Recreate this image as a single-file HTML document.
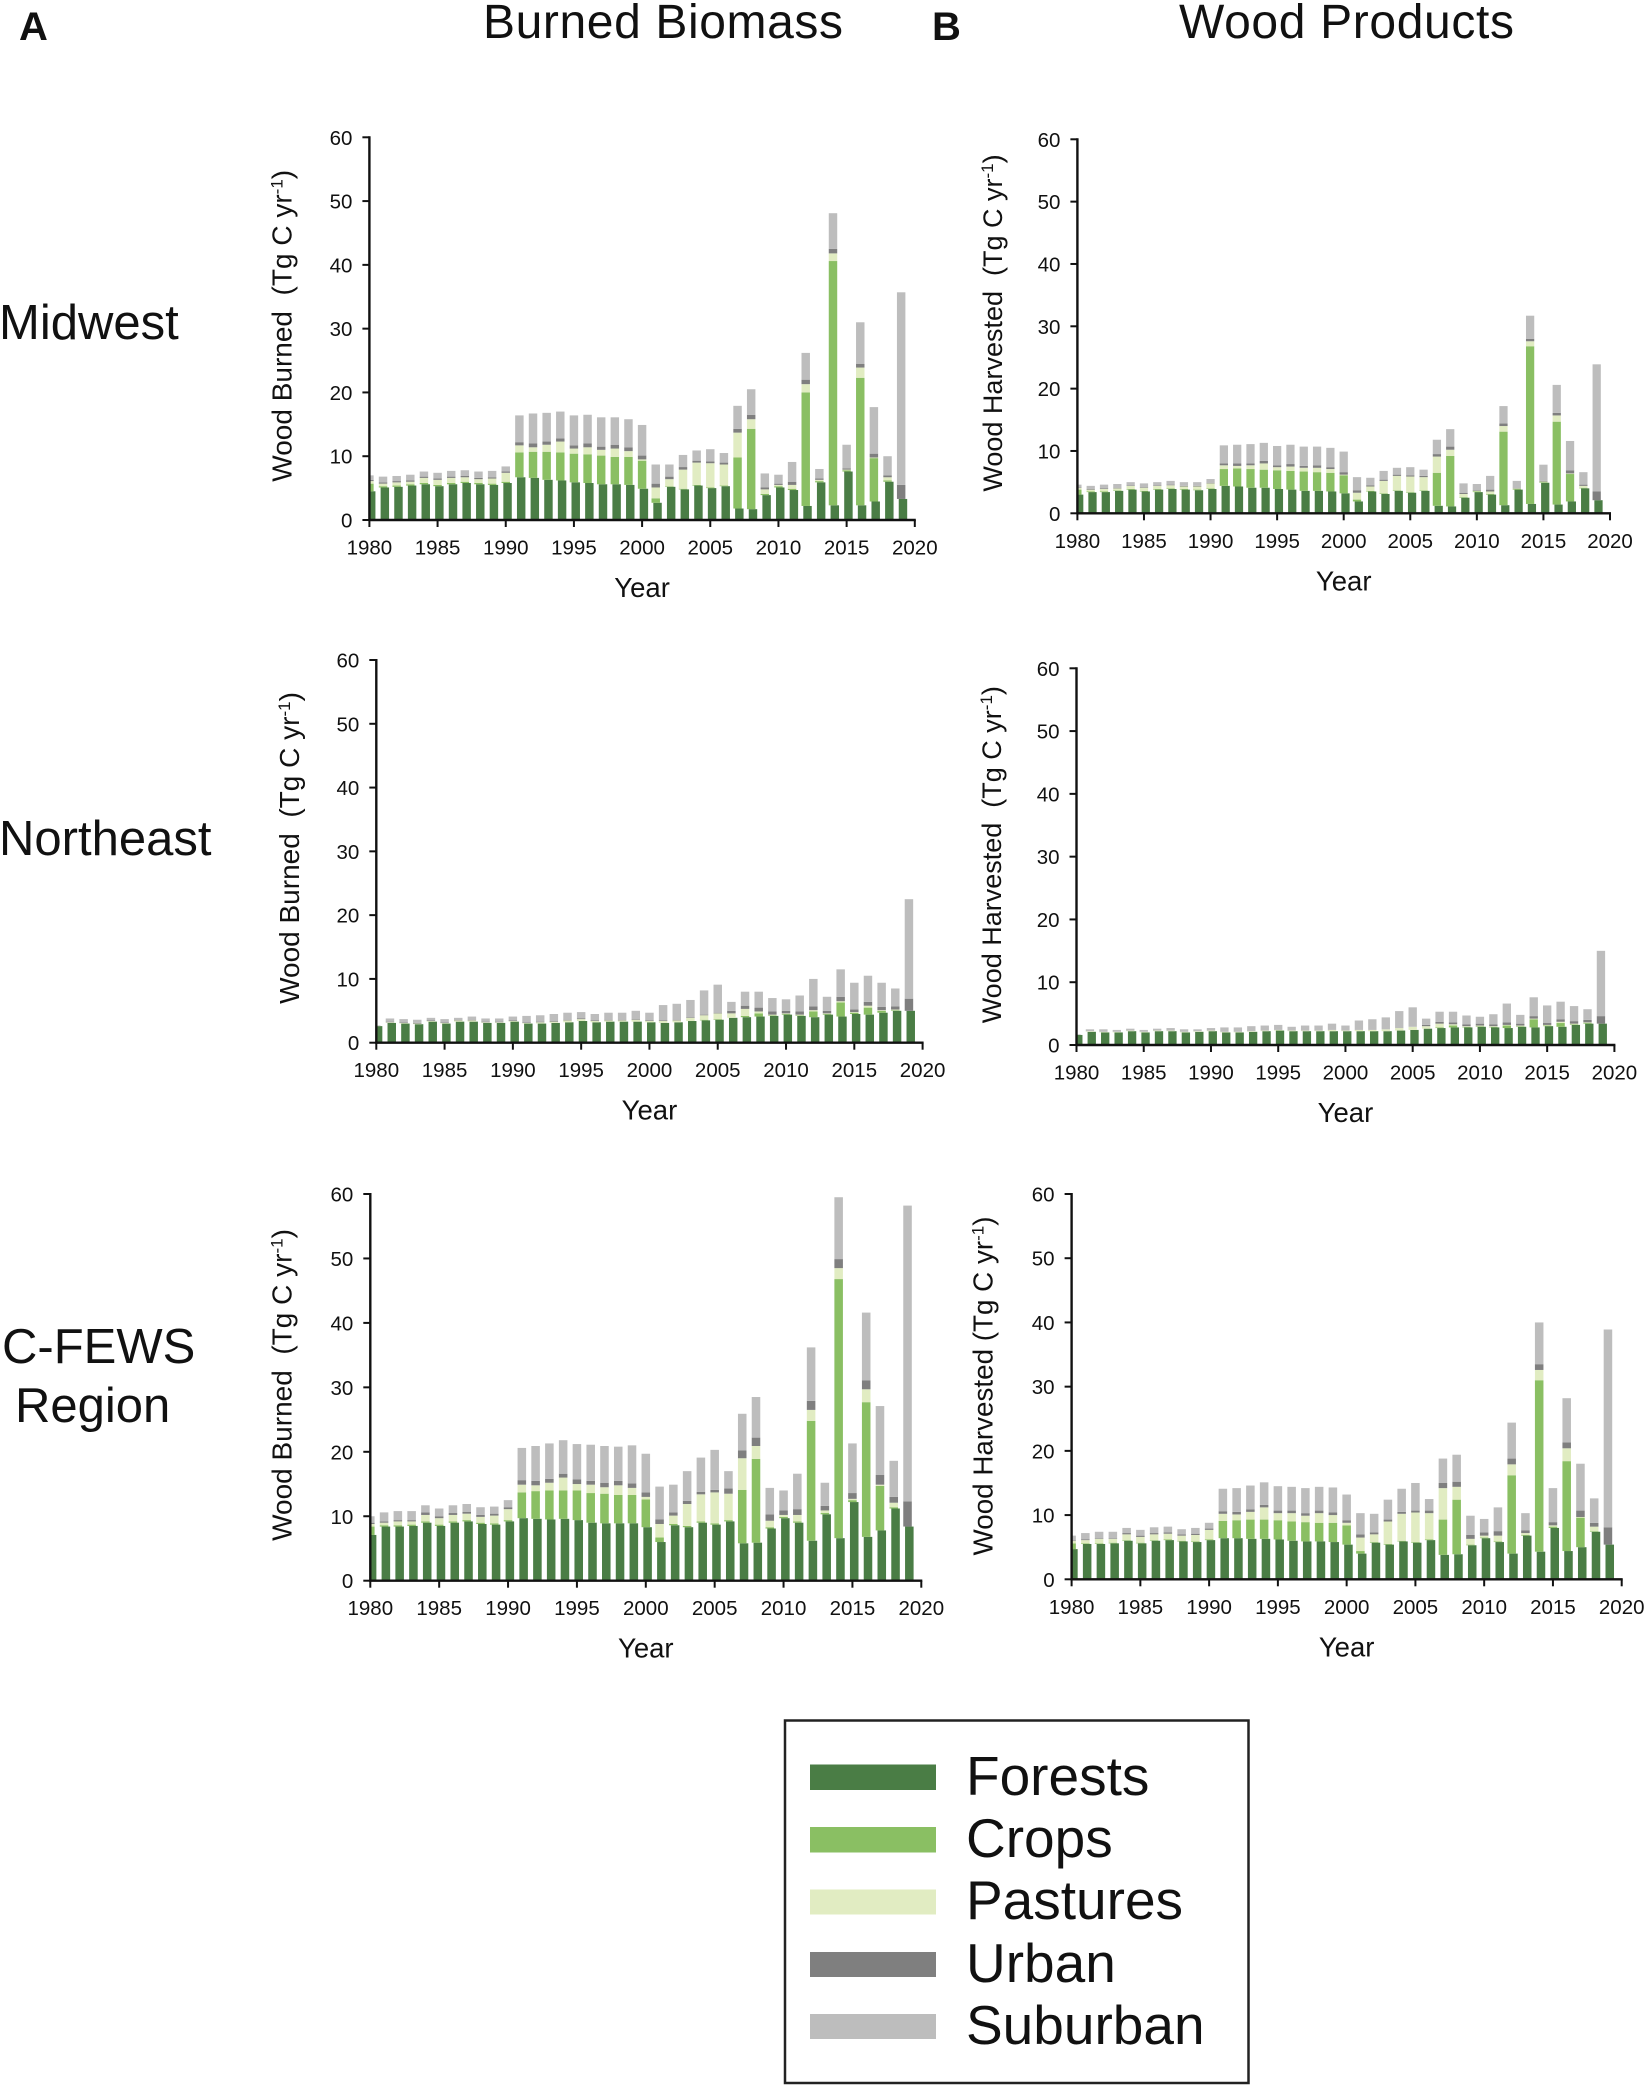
<!DOCTYPE html>
<html lang="en">
<head>
<meta charset="utf-8">
<title>Burned Biomass and Wood Products</title>
<style>
html,body{margin:0;padding:0;background:#fff}
body{width:1649px;height:2089px;overflow:hidden}
svg{display:block}
text{font-family:"Liberation Sans",sans-serif;fill:#111;white-space:pre}
</style>
</head>
<body>
<svg id="figure" xmlns="http://www.w3.org/2000/svg" width="1649" height="2089" viewBox="0 0 1649 2089">
  <rect x="0" y="0" width="1649" height="2089" fill="#fff"/>
  <text x="19" y="40" font-size="40" font-weight="bold">A</text>
  <text x="932" y="40" font-size="40" font-weight="bold">B</text>
  <text x="483" y="38" font-size="48" textLength="360">Burned Biomass</text>
  <text x="1179" y="38" font-size="48" textLength="335">Wood Products</text>
  <text x="-1" y="339" font-size="49">Midwest</text>
  <text x="-1" y="855" font-size="49">Northeast</text>
  <text x="2" y="1363" font-size="49">C-FEWS</text>
  <text x="15" y="1422" font-size="49">Region</text>
  <g id="charts"></g>
  <g>
    <rect x="785" y="1720.5" width="463.5" height="362.5" fill="#fff" stroke="#222" stroke-width="2.5"/>
    <rect x="810" y="1764.5" width="126" height="25.5" fill="#4a7d45"/>
    <text x="966" y="1795" font-size="55">Forests</text>
    <rect x="810" y="1827" width="126" height="25.5" fill="#8abf63"/>
    <text x="966" y="1857" font-size="55">Crops</text>
    <rect x="810" y="1889.5" width="126" height="25" fill="#e1ecc2"/>
    <text x="966" y="1919" font-size="55">Pastures</text>
    <rect x="810" y="1952" width="126" height="25" fill="#7f7f7f"/>
    <text x="966" y="1982" font-size="55">Urban</text>
    <rect x="810" y="2014" width="126" height="25" fill="#bdbdbd"/>
    <text x="966" y="2044" font-size="55">Suburban</text>
  </g>
</svg>
<script>
const years = [1980,1981,1982,1983,1984,1985,1986,1987,1988,1989,1990,1991,1992,1993,1994,1995,1996,1997,1998,1999,2000,2001,2002,2003,2004,2005,2006,2007,2008,2009,2010,2011,2012,2013,2014,2015,2016,2017,2018,2019];
const xTickLabels = [1980,1985,1990,1995,2000,2005,2010,2015,2020];
const yTickLabels = [0,10,20,30,40,50,60];
const seriesNames = ['forests','crops','pastures','urban','suburban'];

const midwestBurnedForests = [4.5,5.1,5.2,5.4,5.6,5.3,5.6,5.8,5.6,5.5,5.8,6.7,6.6,6.3,6.2,5.9,5.8,5.6,5.6,5.5,4.9,2.7,5.2,4.8,5.4,5.0,5.3,1.8,1.7,3.9,5.1,4.7,2.2,5.9,2.3,7.6,2.3,2.9,6.0,3.3];
const midwestBurnedCrops = [1.2,.2,.2,.2,.2,.2,.2,.2,.2,.2,.2,3.9,4.1,4.4,4.4,4.5,4.5,4.5,4.3,4.4,4.4,.7,.1,.1,.1,.1,.1,8.0,12.6,.2,.2,.2,17.8,.2,38.3,.2,20.0,6.8,.2,0];
const midwestBurnedPastures = [.4,.4,.5,.4,.8,.8,.8,.7,.6,.8,1.4,1.1,.7,1.1,1.7,.8,1.1,.9,1.3,.9,.2,1.7,1.1,3.0,3.5,3.8,3.3,3.9,1.5,.7,.2,.6,1.3,.2,1.2,.1,1.6,.1,.5,0];
const midwestBurnedUrban = [.2,.2,.2,.2,.2,.2,.2,.2,.2,.2,.2,.5,.6,.5,.5,.5,.6,.5,.6,.6,.6,.6,.4,.4,.3,.3,.3,.6,.7,.3,.2,.5,.7,.2,.7,.2,.6,.6,.3,2.2];
const midwestBurnedSuburban = [.7,.9,.8,.9,.8,.9,.9,.9,1.0,1.0,.8,4.2,4.7,4.5,4.2,4.7,4.5,4.6,4.3,4.4,4.8,3.0,1.9,1.9,1.6,1.9,1.5,3.6,4.0,2.2,1.4,3.1,4.2,1.5,5.6,3.7,6.5,7.3,3.0,30.2];

const midwestHarvestedForests = [3.0,3.4,3.4,3.6,3.8,3.5,3.8,3.9,3.8,3.7,3.9,4.4,4.3,4.1,4.1,3.9,3.8,3.6,3.6,3.5,3.2,1.9,3.5,3.1,3.6,3.3,3.6,1.2,1.1,2.5,3.4,3.0,1.3,3.8,1.5,4.9,1.4,1.9,4.0,2.1];
const midwestHarvestedCrops = [.8,.1,.1,.1,.1,.1,.1,.1,.1,.1,.1,2.7,2.9,3.0,2.9,3.0,3.0,3.1,3.0,3.0,2.9,.3,.1,.1,.1,.1,.1,5.3,8.1,.1,.1,.1,11.8,.1,25.3,.1,13.3,4.4,.1,0];
const midwestHarvestedPastures = [.3,.3,.4,.3,.5,.5,.5,.5,.4,.5,.8,.6,.4,.6,1.0,.5,.7,.6,.7,.6,.1,1.1,.7,2.0,2.3,2.5,2.1,2.6,1.0,.5,.1,.4,.9,.1,.8,.1,1.0,.1,.3,0];
const midwestHarvestedUrban = [.1,.1,.1,.1,.1,.1,.1,.1,.1,.1,.1,.3,.4,.3,.4,.3,.4,.3,.4,.3,.4,.4,.2,.2,.2,.2,.2,.4,.5,.2,.1,.3,.4,.1,.4,.1,.4,.5,.2,1.4];
const midwestHarvestedSuburban = [.4,.5,.6,.6,.5,.6,.5,.6,.6,.6,.6,2.9,3.0,3.1,2.9,3.1,3.1,3.1,3.0,3.1,3.3,2.1,1.2,1.4,1.1,1.3,1.0,2.3,2.8,1.5,1.0,2.2,2.8,1.1,3.7,2.6,4.5,4.7,2.0,20.4];

const northeastBurnedForests = [2.6,3.1,3.0,2.9,3.3,3.0,3.3,3.3,3.1,3.1,3.3,3.0,3.0,3.1,3.2,3.4,3.2,3.3,3.3,3.3,3.2,3.1,3.2,3.4,3.5,3.6,3.9,4.0,4.1,4.2,4.4,4.2,4.0,4.4,4.1,4.5,4.4,4.7,5.0,5.0];
const northeastBurnedCrops = [0,0,0,0,0,0,0,0,0,0,0,0,0,0,0,0,0,0,0,0,0,0,0,0,.1,.1,0,.2,.5,.1,.1,.1,.9,.1,2.2,.2,1.1,.3,.1,0];
const northeastBurnedPastures = [0,.1,.1,.1,.1,.1,.2,.2,.1,.1,.1,.1,.2,.2,.3,.3,.2,.2,.2,.3,.2,.3,.3,.5,.7,.9,.7,1.1,.3,.1,.1,.1,.2,.1,.2,.1,.3,.1,.1,0];
const northeastBurnedUrban = [0,.1,.1,.1,.1,.1,.1,.1,.1,.1,.1,.1,.1,.1,.1,.1,.1,.1,.1,.1,.1,.1,.1,.1,.1,.1,.4,.5,.6,.5,.4,.5,.6,.4,.7,.4,.6,.5,.5,1.9];
const northeastBurnedSuburban = [.1,.5,.5,.5,.4,.5,.3,.5,.5,.5,.6,1.0,1.0,1.1,1.1,1.0,1.0,1.1,1.1,1.3,1.2,2.4,2.5,2.7,3.8,4.4,1.4,2.2,2.5,2.1,1.8,2.5,4.3,2.2,4.3,4.2,4.1,3.8,2.8,15.6];

const northeastHarvestedForests = [1.6,2.1,2.0,2.0,2.2,2.0,2.2,2.2,2.0,2.1,2.2,2.0,2.0,2.1,2.2,2.3,2.2,2.2,2.2,2.2,2.2,2.2,2.2,2.2,2.3,2.4,2.6,2.7,2.8,2.8,2.9,2.8,2.7,2.9,2.8,3.0,2.9,3.2,3.4,3.4];
const northeastHarvestedCrops = [0,0,0,0,0,0,0,0,0,0,0,0,0,0,0,0,0,0,0,0,0,0,0,0,0,0,0,.1,.3,.1,.1,.1,.4,.1,1.3,.1,.6,.1,.1,0];
const northeastHarvestedPastures = [0,.1,.1,.1,.1,.1,.1,.1,.1,.1,.1,.1,.1,.1,.1,.1,.1,.1,.1,.2,.1,.2,.2,.3,.4,.5,.4,.6,.2,.1,.1,.1,.1,.1,.1,.1,.2,.1,.1,0];
const northeastHarvestedUrban = [0,0,0,0,0,0,0,0,0,0,0,0,0,0,0,0,0,0,0,0,0,0,0,0,0,0,.2,.3,.3,.3,.3,.3,.4,.3,.4,.3,.4,.4,.4,1.2];
const northeastHarvestedSuburban = [.1,.3,.4,.3,.3,.3,.3,.4,.4,.3,.4,.7,.7,.8,.8,.8,.6,.8,.8,1.0,.8,1.5,1.7,1.9,2.7,3.1,1.0,1.6,1.7,1.4,1.1,1.6,3.0,1.4,3.0,2.8,2.8,2.4,1.7,10.4];

const regionBurnedForests = [7.1,8.4,8.4,8.5,9.0,8.5,9.0,9.2,8.8,8.7,9.2,9.7,9.6,9.5,9.6,9.4,9.0,8.9,8.9,8.9,8.3,6.0,8.6,8.3,9.0,8.7,9.2,5.8,5.9,8.1,9.7,9.0,6.2,10.3,6.6,12.2,6.8,7.8,11.2,8.4];
const regionBurnedCrops = [1.3,.2,.2,.2,.2,.2,.2,.2,.2,.2,.2,4.0,4.3,4.5,4.4,4.6,4.6,4.6,4.4,4.4,4.3,.7,.2,.2,.2,.2,.2,8.3,13.0,.2,.2,.2,18.6,.2,40.2,.3,20.9,6.9,.2,0];
const regionBurnedPastures = [.4,.4,.6,.5,1.0,1.0,1.0,1.0,.9,1.2,1.7,1.2,.9,1.2,2.0,1.0,1.3,1.0,1.5,1.1,.4,2.1,1.3,3.4,4.2,4.8,4.1,4.9,2.0,1.0,.3,1.0,1.7,.4,1.7,.2,2.0,.2,.7,0];
const regionBurnedUrban = [.2,.2,.2,.2,.4,.3,.3,.3,.3,.3,.3,.7,.7,.6,.6,.7,.6,.7,.7,.7,.7,.7,.5,.5,.4,.4,.8,1.2,1.3,1.0,.7,.9,1.4,.7,1.4,.9,1.4,1.5,.9,3.9];
const regionBurnedSuburban = [1.0,1.4,1.4,1.4,1.1,1.2,1.2,1.2,1.2,1.1,1.1,5.0,5.4,5.5,5.2,5.5,5.6,5.7,5.3,5.9,6.0,5.1,4.3,4.6,5.3,6.2,2.7,5.7,6.3,4.1,3.1,5.5,8.3,3.6,9.6,7.7,10.5,10.7,5.6,45.9];

const regionHarvestedForests = [4.7,5.5,5.5,5.6,6.0,5.6,6.0,6.1,5.9,5.8,6.1,6.4,6.4,6.3,6.3,6.2,6.0,5.9,5.9,5.8,5.4,4.0,5.7,5.4,5.9,5.7,6.1,3.8,3.9,5.3,6.4,5.8,4.0,6.8,4.3,8.0,4.4,5.0,7.4,5.4];
const regionHarvestedCrops = [.9,.1,.1,.1,.1,.1,.1,.1,.1,.1,.1,2.7,2.8,3.0,3.0,3.0,3.0,3.0,2.9,3.0,3.0,.4,.1,.1,.1,.1,.1,5.5,8.5,.1,.1,.1,12.2,.1,26.7,.2,14.0,4.6,.1,0];
const regionHarvestedPastures = [.4,.5,.7,.6,.9,.9,.9,.9,.8,1.0,1.5,1.1,.9,1.2,1.9,1.1,1.3,1.0,1.5,1.2,.4,2.1,1.2,3.5,4.2,4.6,4.1,4.9,2.0,.9,.3,.9,1.7,.3,1.6,.2,2.0,.1,.7,0];
const regionHarvestedUrban = [.1,.1,.1,.1,.2,.2,.2,.2,.2,.2,.2,.4,.4,.4,.4,.4,.4,.4,.4,.4,.4,.5,.3,.3,.3,.3,.4,.8,.8,.6,.5,.7,.9,.4,.9,.5,.9,1.0,.6,2.7];
const regionHarvestedSuburban = [.7,1.0,1.0,1.0,.8,.9,.9,.9,.8,.9,.9,3.5,3.7,3.7,3.5,3.8,3.7,3.9,3.7,3.9,4.0,3.3,2.9,3.1,3.6,4.3,1.8,3.8,4.2,3.0,2.1,3.7,5.6,2.7,6.5,5.3,6.9,7.3,3.8,30.8];

const seriesColors = ['#4a7d45','#8abf63','#e1ecc2','#7f7f7f','#bdbdbd'];
const NS = 'http://www.w3.org/2000/svg';
const root = document.getElementById('charts');

const panels = [
  {id:'midwest-burned', x0:369.4, x1:914.8, y0:520, y1:137.3, title:'Wood Burned  (Tg C yr', titleSize:28, titleX:291.5, titleY:325.8, series:[midwestBurnedForests,midwestBurnedCrops,midwestBurnedPastures,midwestBurnedUrban,midwestBurnedSuburban]},
  {id:'midwest-harvested', x0:1077.4, x1:1610, y0:513.3, y1:139.3, title:'Wood Harvested  (Tg C yr', titleSize:27, titleX:1002, titleY:323, series:[midwestHarvestedForests,midwestHarvestedCrops,midwestHarvestedPastures,midwestHarvestedUrban,midwestHarvestedSuburban]},
  {id:'northeast-burned', x0:376.3, x1:922.6, y0:1042.7, y1:660, title:'Wood Burned  (Tg C yr', titleSize:28, titleX:299, titleY:848, series:[northeastBurnedForests,northeastBurnedCrops,northeastBurnedPastures,northeastBurnedUrban,northeastBurnedSuburban]},
  {id:'northeast-harvested', x0:1076.5, x1:1614.4, y0:1045, y1:668.3, title:'Wood Harvested  (Tg C yr', titleSize:27, titleX:1001, titleY:854.7, series:[northeastHarvestedForests,northeastHarvestedCrops,northeastHarvestedPastures,northeastHarvestedUrban,northeastHarvestedSuburban]},
  {id:'region-burned', x0:370.3, x1:921.3, y0:1580.7, y1:1194, title:'Wood Burned  (Tg C yr', titleSize:28, titleX:291.5, titleY:1385, series:[regionBurnedForests,regionBurnedCrops,regionBurnedPastures,regionBurnedUrban,regionBurnedSuburban]},
  {id:'region-harvested', x0:1071.6, x1:1621.7, y0:1579.3, y1:1194, title:'Wood Harvested (Tg C yr', titleSize:27.8, titleX:992.5, titleY:1386, series:[regionHarvestedForests,regionHarvestedCrops,regionHarvestedPastures,regionHarvestedUrban,regionHarvestedSuburban]}
];

function svgEl(tag, parent){
  const el = document.createElementNS(NS, tag);
  parent.appendChild(el);
  return el;
}
function setAttrs(el, attrs){
  for (const k in attrs) el.setAttribute(k, attrs[k]);
  return el;
}

panels.forEach(function(p){
  const xAt = function(year){ return p.x0 + (year - 1980) * (p.x1 - p.x0) / 40; };
  const yAt = function(v){ return p.y0 - v * (p.y0 - p.y1) / 60; };
  const barWidth = 0.62 * (p.x1 - p.x0) / 40;

  const g = svgEl('g', root);
  
  

  years.forEach(function(year, i){
    let base = 0;
    p.series.forEach(function(values, s){
      const v = values[i];
      if (v > 0) {
        const offset = s === 0 ? 1.8 : 0;
        const left = Math.max(p.x0, xAt(year) - barWidth / 2 + offset);
        const right = xAt(year) + barWidth / 2 + offset;
        const rect = svgEl('rect', g);
        setAttrs(rect, {x:left, y:yAt(base + v), width:right - left, height:yAt(base) - yAt(base + v), fill:seriesColors[s]});
        
        
      }
      base += v;
    });
  });

  const yAxis = svgEl('line', g);
  setAttrs(yAxis, {x1:p.x0, x2:p.x0, y1:p.y1 - 1, y2:p.y0 + 1, stroke:'#111', 'stroke-width':2.4});
  
  

  const xAxis = svgEl('line', g);
  setAttrs(xAxis, {x1:p.x0 - 1, x2:p.x1 + 1, y1:p.y0, y2:p.y0, stroke:'#111', 'stroke-width':2.4});
  
  

  yTickLabels.forEach(function(label){
    const tick = svgEl('line', g);
    setAttrs(tick, {x1:p.x0 - 7, x2:p.x0, y1:yAt(label), y2:yAt(label), stroke:'#111', 'stroke-width':2});
    
    
    const text = svgEl('text', g);
    setAttrs(text, {x:p.x0 - 17, y:yAt(label) + 7.5, 'font-size':20.5, 'text-anchor':'end'});
    
    
    text.textContent = label;
  });

  xTickLabels.forEach(function(label){
    const tick = svgEl('line', g);
    setAttrs(tick, {x1:xAt(label), x2:xAt(label), y1:p.y0, y2:p.y0 + 7, stroke:'#111', 'stroke-width':2});
    
    
    const text = svgEl('text', g);
    setAttrs(text, {x:xAt(label), y:p.y0 + 34.5, 'font-size':20.5, 'text-anchor':'middle'});
    
    
    text.textContent = label;
  });

  const xTitle = svgEl('text', g);
  setAttrs(xTitle, {x:(p.x0 + p.x1) / 2, y:p.y0 + 77, 'font-size':27.5, 'text-anchor':'middle'});
  
  
  xTitle.textContent = 'Year';

  const yTitle = svgEl('text', g);
  setAttrs(yTitle, {transform:'translate(' + p.titleX + ',' + p.titleY + ') rotate(-90)', 'font-size':p.titleSize, 'text-anchor':'middle'});
  
  
  const main = svgEl('tspan', yTitle);
  main.textContent = p.title;
  const sup = svgEl('tspan', yTitle);
  setAttrs(sup, {dy:-9, 'font-size':17});
  sup.textContent = '-1';
  const close = svgEl('tspan', yTitle);
  setAttrs(close, {dy:9});
  close.textContent = ')';
});
</script>
</body>
</html>
